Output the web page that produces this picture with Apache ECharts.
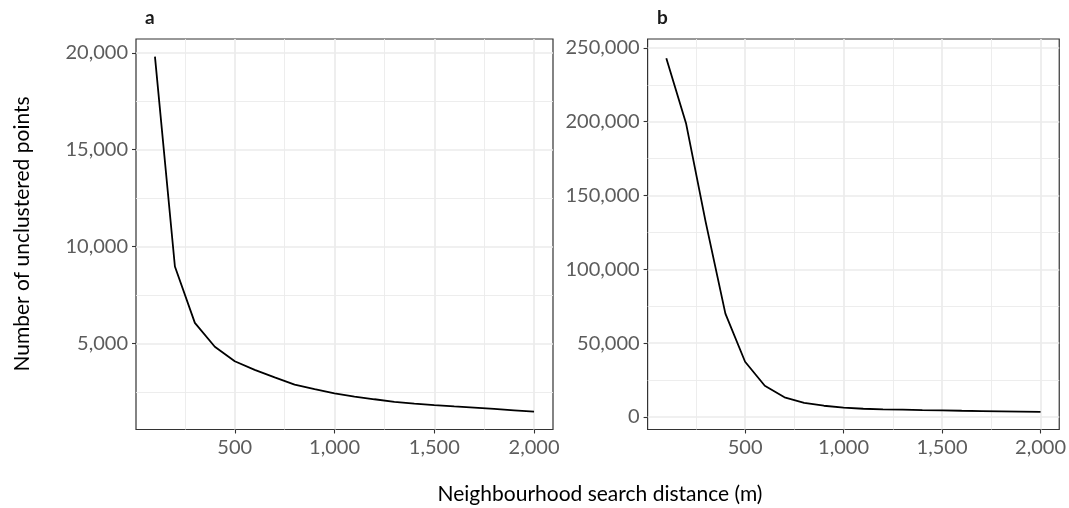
<!DOCTYPE html>
<html>
<head>
<meta charset="utf-8">
<script src="https://cdn.jsdelivr.net/npm/echarts@6/dist/echarts.min.js"></script>
<style>
html,body{margin:0;padding:0;background:#fff;}
#chart{width:1069px;height:508px;}
</style>
</head>
<body>
<div id="chart"></div>
<script>
// ---- data ----
const distances = [100,200,300,400,500,600,700,800,900,1000,1100,1200,1300,1400,1500,1600,1700,1800,1900,2000];
const unclusteredA = [19800,8970,6060,4830,4080,3640,3250,2880,2640,2420,2260,2120,1990,1900,1820,1750,1690,1620,1550,1480];
const unclusteredB = [243000,199000,132000,70000,37400,21100,13300,9600,7600,6250,5560,5100,4900,4650,4450,4200,4000,3800,3620,3450];
const xMajorTicks = [500,1000,1500,2000];
const xMinorTicks = [250,750,1250,1750];
const yMajorTicksA = [5000,10000,15000,20000];
const yMinorTicksA = [2500,7500,12500,17500];
const yMajorTicksB = [0,50000,100000,150000,200000,250000];
const yMinorTicksB = [25000,75000,125000,175000,225000];
const panelLabels = ['a','b'];
const xTitle = 'Neighbourhood search distance (m)';
const yTitle = 'Number of unclustered points';

// ---- styling / layout ----
const FONT = 'Lato, "Open Sans", sans-serif';
const labelColor = '#5c5c5c';
const gridColor = '#EBEBEB';
const borderColor = '#333333';
const fmt = v => Math.round(v).toLocaleString('en-US');

const grids = [
  {left:136, top:39, width:417, height:390.5, show:true, borderColor:borderColor, borderWidth:1.2, backgroundColor:'transparent'},
  {left:647.6, top:39, width:417, height:390.5, show:true, borderColor:borderColor, borderWidth:1.2, backgroundColor:'transparent'}
];

function majorX(gi){
  return {
    type:'value', gridIndex:gi, min:5, max:2095, position:'bottom',
    axisLine:{show:false, onZero:false},
    axisTick:{show:true, length:4, customValues:xMajorTicks, lineStyle:{color:borderColor, width:1.1}},
    axisLabel:{show:true, customValues:xMajorTicks, formatter:fmt, color:labelColor, fontFamily:FONT, fontSize:20, margin:8},
    splitLine:{show:true, lineStyle:{color:gridColor, width:1.7}},
    z:2
  };
}
function minorX(gi){
  return {
    type:'value', gridIndex:gi, min:5, max:2095, position:'bottom',
    axisLine:{show:false, onZero:false},
    axisTick:{show:false, customValues:xMinorTicks},
    axisLabel:{show:false, customValues:xMinorTicks},
    splitLine:{show:true, lineStyle:{color:gridColor, width:0.9}},
    z:1
  };
}
function majorY(gi, min, max, ticks){
  return {
    type:'value', gridIndex:gi, min:min, max:max,
    axisLine:{show:false, onZero:false},
    axisTick:{show:true, length:4, customValues:ticks, lineStyle:{color:borderColor, width:1.1}},
    axisLabel:{show:true, customValues:ticks, formatter:fmt, color:labelColor, fontFamily:FONT, fontSize:20, margin:8},
    splitLine:{show:true, lineStyle:{color:gridColor, width:1.7}},
    z:2
  };
}
function minorY(gi, min, max, ticks){
  return {
    type:'value', gridIndex:gi, min:min, max:max,
    axisLine:{show:false, onZero:false},
    axisTick:{show:false, customValues:ticks},
    axisLabel:{show:false, customValues:ticks},
    splitLine:{show:true, lineStyle:{color:gridColor, width:0.9}},
    z:1
  };
}

const option = {
  animation:false,
  backgroundColor:'#ffffff',
  grid: grids,
  xAxis:[ majorX(0), minorX(0), majorX(1), minorX(1) ],
  yAxis:[
    majorY(0, 560, 20710, yMajorTicksA), minorY(0, 560, 20710, yMinorTicksA),
    majorY(1, -8500, 256000, yMajorTicksB), minorY(1, -8500, 256000, yMinorTicksB)
  ],
  series:[
    {type:'line', xAxisIndex:0, yAxisIndex:0, data:distances.map((d,i)=>[d,unclusteredA[i]]),
     showSymbol:false, lineStyle:{color:'#000', width:1.8}, z:5},
    {type:'line', xAxisIndex:2, yAxisIndex:2, data:distances.map((d,i)=>[d,unclusteredB[i]]),
     showSymbol:false, lineStyle:{color:'#000', width:1.8}, z:5}
  ],
  graphic:[
    {type:'text', left:145, top:8, style:{text:panelLabels[0], font:'bold 19px '+FONT, fill:'#1a1a1a'}},
    {type:'text', left:657, top:8, style:{text:panelLabels[1], font:'bold 19px '+FONT, fill:'#1a1a1a'}},
    {type:'text', x:600, y:494, style:{text:xTitle, font:'21px '+FONT, fill:'#000', align:'center', verticalAlign:'middle'}},
    {type:'text', x:22, y:234, rotation:Math.PI/2, style:{text:yTitle, font:'21px '+FONT, fill:'#000', align:'center', verticalAlign:'middle'}}
  ]
};

const chart = echarts.init(document.getElementById('chart'), null, {renderer:'canvas'});
chart.setOption(option);
</script>
</body>
</html>
